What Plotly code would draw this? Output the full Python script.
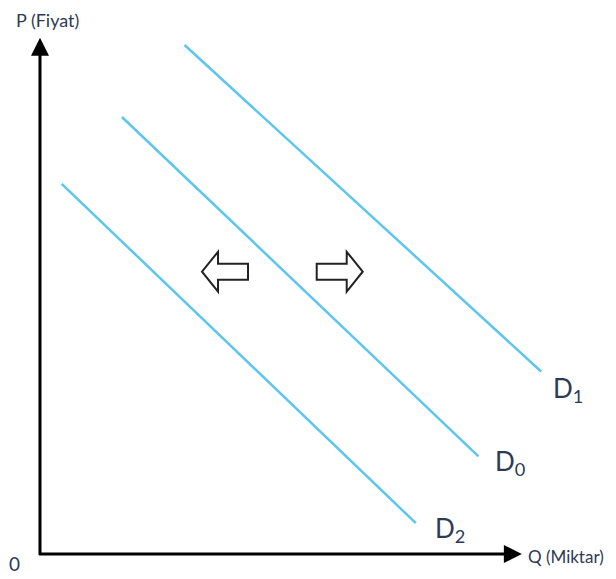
import plotly.graph_objects as go

# ── Demand curves (Q, P end points) ───────────────────────────────────────────
curve_names = ["D<sub>1</sub>", "D<sub>0</sub>", "D<sub>2</sub>"]
curve_q     = [[3.0, 10.4], [1.7, 9.1], [0.45, 7.8]]
curve_p     = [[9.9, 3.55], [8.5, 1.9], [7.2, 0.6]]

# label anchor for each curve (Q, P)
label_q = [10.95, 9.75, 8.51]
label_p = [3.19, 1.77, 0.47]

# shift arrows: centre (Q, P) and direction
shift_q   = [3.84, 6.22]
shift_p   = [5.49, 5.49]
shift_dir = [-1, 1]

Q_MAX, P_MAX = 10.0, 10.04

LINE_COLOR = "#5cc6ee"
TEXT_COLOR = "#2e3a55"
FONT       = "Lato, 'DejaVu Sans', sans-serif"


def block_arrow(d):
    """Hollow block arrow outline in pixels around its centre, pointing d (+1 right)."""
    half_len, head, head_h, shaft_h = 23, 16, 20, 8
    pts = [(-half_len, 0), (-half_len + head, head_h), (-half_len + head, shaft_h),
           (half_len, shaft_h), (half_len, -shaft_h), (-half_len + head, -shaft_h),
           (-half_len + head, -head_h)]
    pts = [(-d * x, y) for x, y in pts]
    return "M " + " L ".join(f"{x},{y}" for x, y in pts) + " Z"


fig = go.Figure()

for q, p in zip(curve_q, curve_p):
    fig.add_trace(go.Scatter(
        x=q, y=p, mode="lines",
        line=dict(color=LINE_COLOR, width=2.5),
        hoverinfo="skip", showlegend=False,
    ))

# curve labels
for name, q, p in zip(curve_names, label_q, label_p):
    fig.add_annotation(x=q, y=p, text=name, showarrow=False,
                       font=dict(family=FONT, size=26, color=TEXT_COLOR))

# axes with arrow heads
fig.add_annotation(x=0, y=P_MAX, ax=0, ay=-0.05, axref="x", ayref="y",
                   text="", showarrow=True, arrowhead=2, arrowsize=1.2,
                   arrowwidth=3, arrowcolor="black")
fig.add_annotation(x=Q_MAX, y=0, ax=-0.05, ay=0, axref="x", ayref="y",
                   text="", showarrow=True, arrowhead=2, arrowsize=1.2,
                   arrowwidth=3, arrowcolor="black")

# axis texts
fig.add_annotation(x=0.15, y=10.38, text="P (Fiyat)", showarrow=False,
                   font=dict(family=FONT, size=18, color=TEXT_COLOR))
fig.add_annotation(x=10.08, y=-0.04, text="Q (Miktar)", showarrow=False,
                   xanchor="left",
                   font=dict(family=FONT, size=17, color=TEXT_COLOR))
fig.add_annotation(x=-0.52, y=-0.18, text="0", showarrow=False,
                   font=dict(family=FONT, size=19, color=TEXT_COLOR))

# shift arrows (hollow block arrows)
for q, p, d in zip(shift_q, shift_p, shift_dir):
    fig.add_shape(type="path", path=block_arrow(d),
                  xref="x", yref="y", xsizemode="pixel", ysizemode="pixel",
                  xanchor=q, yanchor=p,
                  line=dict(color="#222222", width=2), fillcolor="white")

fig.update_layout(
    width=616, height=579,
    margin=dict(l=0, r=0, t=0, b=0),
    paper_bgcolor="white", plot_bgcolor="white",
    xaxis=dict(range=[-0.664, 12.12], visible=False),
    yaxis=dict(range=[-0.642, 10.62], visible=False),
)

fig.write_html("out.html")
